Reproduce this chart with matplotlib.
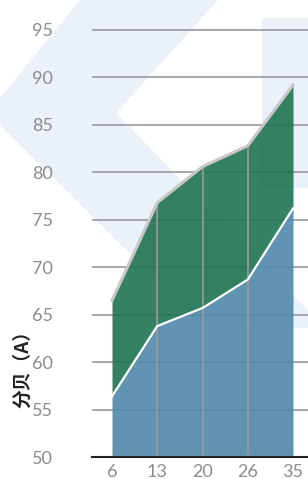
"""
分贝面积图 (A) を再現する
"""
import matplotlib.pyplot as plt
import numpy as np
from matplotlib.patches import Polygon, Rectangle

plt.rcParams['font.family'] = ['Lato', 'DejaVu Sans']

# データ
categories = ["6", "13", "20", "26", "35"]
low_vals = [56.4, 63.8, 65.7, 68.7, 76.2]
high_vals = [66.5, 76.8, 80.6, 82.8, 89.2]
y_ticks = [50, 55, 60, 65, 70, 75, 80, 85, 90, 95]

W, H = 308, 479
fig = plt.figure(figsize=(W / 100, H / 100), dpi=100)

# 背景の飾り (ピクセル座標)
bg = fig.add_axes([0, 0, 1, 1], zorder=0)
bg.set_xlim(0, W)
bg.set_ylim(H, 0)
bg.axis("off")
deco = "#eaf1f8"
bg.add_patch(Polygon([(80, 0), (-12, 113), (205, 328), (325, 328),
                      (116, 113), (218, 0)], closed=True,
                     facecolor=deco, edgecolor="none"))
bg.add_patch(Rectangle((262, 18), 60, 170, facecolor=deco, edgecolor="none"))

# メインの軸
x = np.arange(len(categories))
ax = fig.add_axes([92 / W, 1 - 457 / H, 1 - 92 / W, 447 / H], zorder=1)
ax.patch.set_alpha(0)
ax.set_xlim(-0.442, 4.331)
ax.set_ylim(50, 50 + 447 / 9.489)

for v in y_ticks[1:]:
    ax.axhline(v, color="#a4a8ad", lw=1.4, zorder=1)
ax.axhline(50, color="#222222", lw=1.5, zorder=5, clip_on=False)

ax.fill_between(x, 50, low_vals, color="#5089aa", alpha=0.9, lw=0, zorder=2)
ax.fill_between(x, low_vals, high_vals, color="#1f7352", alpha=0.9, lw=0, zorder=2)
ax.vlines(x[1:-1], 50, np.array(high_vals)[1:-1], color="#9a9a9a", lw=1.2, zorder=3)
ax.plot(x, low_vals, color="white", lw=1.6, zorder=4)
ax.plot(x, high_vals, color="#c8c8c8", lw=2.2, zorder=4,
        solid_joinstyle="miter")

ax.set_xticks(x)
ax.set_xticklabels(categories)
ax.set_yticks(y_ticks)
ax.tick_params(length=0, labelsize=13, labelcolor="#8c8c8c")
ax.tick_params(axis="y", pad=28)
ax.tick_params(axis="x", pad=5)
for s in ax.spines.values():
    s.set_visible(False)

fig.text(23 / W, 1 - 364 / H, "分贝（A）", rotation=90, ha="center", va="center",
         fontsize=13.5, fontweight="bold", color="#222222",
         family=["Noto Sans CJK SC", "DejaVu Sans"])

fig.savefig("out.png", dpi=100)
